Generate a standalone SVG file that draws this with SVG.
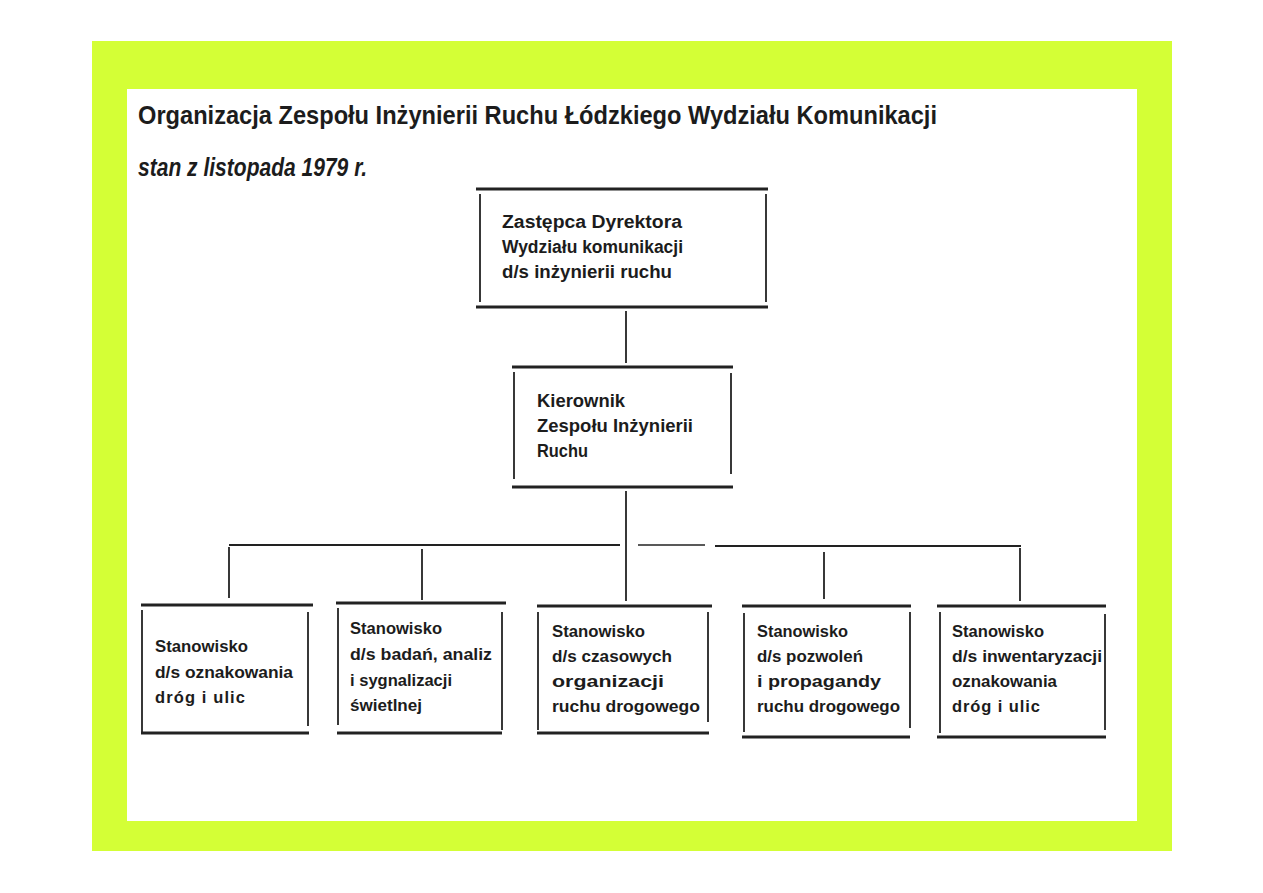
<svg xmlns="http://www.w3.org/2000/svg" width="1263" height="893" viewBox="0 0 1263 893">
<style>
.t{font-family:"Liberation Sans",Arial,sans-serif;font-weight:bold;fill:#1c1c1c}
.b{font-size:18px}
.s{font-size:16.5px}
.h{stroke:#222;stroke-width:3;fill:none}
.v{stroke:#222;stroke-width:1.8;fill:none}
.c{stroke:#222;stroke-width:1.8;fill:none}
</style>
<rect x="0" y="0" width="1263" height="893" fill="#ffffff"/>
<rect x="92" y="41" width="1080" height="810" fill="#d4ff36"/>
<rect x="127" y="89" width="1010" height="732" fill="#ffffff"/>
<g id="title">
<text class="t" x="138" y="124" font-size="25" textLength="799" lengthAdjust="spacingAndGlyphs">Organizacja Zespołu Inżynierii Ruchu Łódzkiego Wydziału Komunikacji</text>
<text class="t" x="138" y="176" font-size="25" font-style="italic" font-weight="normal" textLength="229" lengthAdjust="spacingAndGlyphs">stan z listopada 1979 r.</text>
</g>
<g id="connectors">
<line class="c" x1="626" y1="311" x2="626" y2="363"/>
<line class="c" x1="626" y1="491" x2="626" y2="601"/>
<line class="h" x1="229" y1="545" x2="620" y2="545" style="stroke-width:2.2"/>
<line class="h" x1="638" y1="545" x2="705" y2="545" style="stroke-width:1.6"/>
<line class="h" x1="715" y1="546" x2="1021" y2="546" style="stroke-width:2"/>
<line class="c" x1="229" y1="547" x2="229" y2="598"/>
<line class="c" x1="422" y1="549" x2="422" y2="600"/>
<line class="c" x1="824" y1="552" x2="824" y2="599"/>
<line class="c" x1="1020" y1="548" x2="1020" y2="601"/>
</g>
<g id="n-zastepca">
<line class="h" x1="476" y1="189" x2="768" y2="189"/>
<line class="h" x1="476" y1="307" x2="768" y2="307"/>
<line class="v" x1="480" y1="194" x2="480" y2="302"/>
<line class="v" x1="766" y1="194" x2="766" y2="302"/>
<text class="t b" x="502" y="228" textLength="180" lengthAdjust="spacingAndGlyphs">Zastępca Dyrektora</text>
<text class="t b" x="502" y="253" textLength="181" lengthAdjust="spacingAndGlyphs">Wydziału komunikacji</text>
<text class="t b" x="502" y="278" textLength="170" lengthAdjust="spacingAndGlyphs">d/s inżynierii ruchu</text>
</g>
<g id="n-kierownik">
<line class="h" x1="512" y1="367" x2="733" y2="367"/>
<line class="h" x1="512" y1="487" x2="733" y2="487"/>
<line class="v" x1="514" y1="372" x2="514" y2="479"/>
<line class="v" x1="731" y1="373" x2="731" y2="474"/>
<text class="t b" x="537" y="407" textLength="88" lengthAdjust="spacingAndGlyphs">Kierownik</text>
<text class="t b" x="537" y="432" textLength="156" lengthAdjust="spacingAndGlyphs">Zespołu Inżynierii</text>
<text class="t b" x="537" y="457" textLength="51" lengthAdjust="spacingAndGlyphs">Ruchu</text>
</g>
<g id="n-oznakowania">
<line class="h" x1="141" y1="605" x2="313" y2="605"/>
<line class="h" x1="141" y1="733" x2="309" y2="733"/>
<line class="v" x1="142" y1="610" x2="142" y2="734"/>
<line class="v" x1="308" y1="612" x2="308" y2="726"/>
<text class="t s" x="155" y="652" textLength="93" lengthAdjust="spacingAndGlyphs">Stanowisko</text>
<text class="t s" x="155" y="678" textLength="138" lengthAdjust="spacingAndGlyphs">d/s oznakowania</text>
<text class="t s" x="155" y="703" textLength="90" lengthAdjust="spacing">dróg i ulic</text>
</g>
<g id="n-badan">
<line class="h" x1="336" y1="603" x2="506" y2="603"/>
<line class="h" x1="337" y1="733" x2="502" y2="733"/>
<line class="v" x1="338" y1="608" x2="338" y2="725"/>
<line class="v" x1="502" y1="612" x2="502" y2="730"/>
<text class="t s" x="350" y="634" textLength="92" lengthAdjust="spacingAndGlyphs">Stanowisko</text>
<text class="t s" x="350" y="660" textLength="142" lengthAdjust="spacingAndGlyphs">d/s badań, analiz</text>
<text class="t s" x="350" y="686" textLength="102" lengthAdjust="spacingAndGlyphs">i sygnalizacji</text>
<text class="t s" x="350" y="711" textLength="72" lengthAdjust="spacingAndGlyphs">świetlnej</text>
</g>
<g id="n-czasowych">
<line class="h" x1="537" y1="606" x2="712" y2="606"/>
<line class="h" x1="537" y1="733" x2="709" y2="733"/>
<line class="v" x1="538" y1="612" x2="538" y2="730"/>
<line class="v" x1="708" y1="612" x2="708" y2="722"/>
<text class="t s" x="552" y="637" textLength="93" lengthAdjust="spacingAndGlyphs">Stanowisko</text>
<text class="t s" x="552" y="662" textLength="120" lengthAdjust="spacingAndGlyphs">d/s czasowych</text>
<text class="t s" x="552" y="687" textLength="112" lengthAdjust="spacingAndGlyphs">organizacji</text>
<text class="t s" x="552" y="712" textLength="148" lengthAdjust="spacingAndGlyphs">ruchu drogowego</text>
</g>
<g id="n-pozwolen">
<line class="h" x1="742" y1="606" x2="911" y2="606"/>
<line class="h" x1="742" y1="737" x2="910" y2="737"/>
<line class="v" x1="744" y1="613" x2="744" y2="732"/>
<line class="v" x1="910" y1="612" x2="910" y2="728"/>
<text class="t s" x="757" y="637" textLength="91" lengthAdjust="spacingAndGlyphs">Stanowisko</text>
<text class="t s" x="757" y="662" textLength="106" lengthAdjust="spacingAndGlyphs">d/s pozwoleń</text>
<text class="t s" x="757" y="687" textLength="124" lengthAdjust="spacingAndGlyphs">i propagandy</text>
<text class="t s" x="757" y="712" textLength="143" lengthAdjust="spacingAndGlyphs">ruchu drogowego</text>
</g>
<g id="n-inwentaryzacji">
<line class="h" x1="937" y1="606" x2="1106" y2="606"/>
<line class="h" x1="937" y1="737" x2="1106" y2="737"/>
<line class="v" x1="940" y1="612" x2="940" y2="733"/>
<line class="v" x1="1105" y1="614" x2="1105" y2="730"/>
<text class="t s" x="952" y="637" textLength="92" lengthAdjust="spacingAndGlyphs">Stanowisko</text>
<text class="t s" x="952" y="662" textLength="150" lengthAdjust="spacingAndGlyphs">d/s inwentaryzacji</text>
<text class="t s" x="952" y="687" textLength="105" lengthAdjust="spacingAndGlyphs">oznakowania</text>
<text class="t s" x="952" y="712" textLength="88" lengthAdjust="spacing">dróg i ulic</text>
</g>
</svg>
